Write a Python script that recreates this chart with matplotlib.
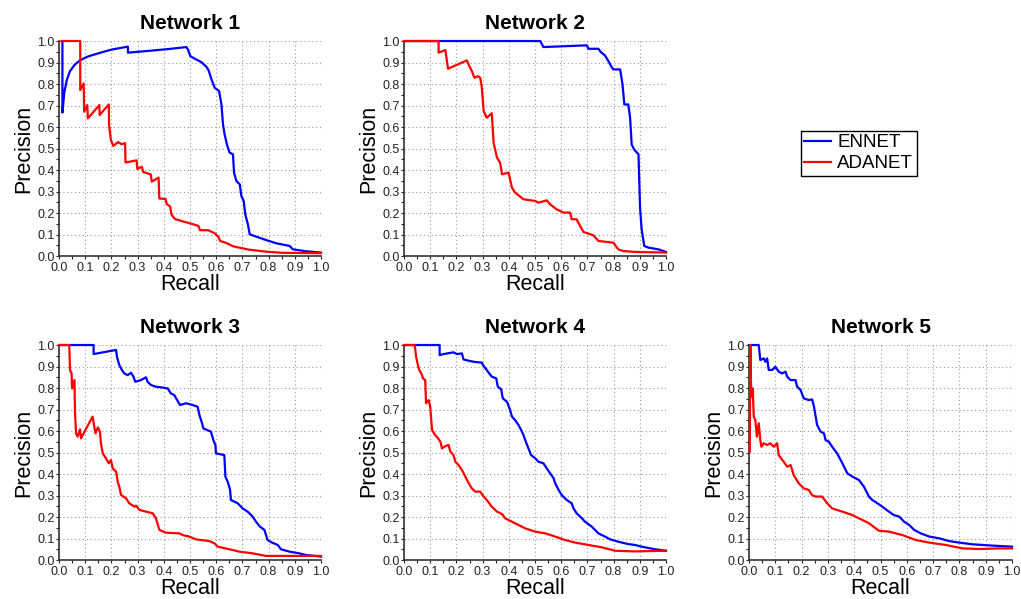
import numpy as np
import matplotlib.pyplot as plt
from matplotlib.ticker import MultipleLocator

plt.rcParams['font.family'] = ['Liberation Sans', 'DejaVu Sans']

#################################################################
# Network 1

n1_ennet_recall = [0.013, 0.013, 0.02, 0.03, 0.042, 0.06, 0.08, 0.11, 0.156, 0.20, 0.263, 0.263,
                   0.35, 0.42, 0.486, 0.492, 0.501, 0.518, 0.543, 0.562, 0.571, 0.581, 0.594,
                   0.611, 0.620, 0.626, 0.632, 0.641, 0.651, 0.664, 0.668, 0.677, 0.690, 0.696,
                   0.705, 0.711, 0.721, 0.728, 0.753, 0.791, 0.830, 0.880, 0.893, 0.944, 1.0]
n1_ennet_prec = [1.0, 0.667, 0.76, 0.82, 0.86, 0.89, 0.91, 0.928, 0.945, 0.96, 0.974, 0.946,
                 0.955, 0.963, 0.972, 0.961, 0.930, 0.918, 0.902, 0.881, 0.864, 0.825, 0.783,
                 0.767, 0.705, 0.612, 0.566, 0.519, 0.481, 0.473, 0.388, 0.349, 0.333, 0.279,
                 0.256, 0.194, 0.147, 0.101, 0.090, 0.074, 0.059, 0.047, 0.031, 0.022, 0.016]

n1_adanet_recall = [0.009, 0.081, 0.081, 0.094, 0.096, 0.108, 0.110, 0.154, 0.155, 0.190, 0.191,
                    0.198, 0.207, 0.226, 0.239, 0.252, 0.254, 0.296, 0.299, 0.316, 0.322, 0.350,
                    0.354, 0.380, 0.383, 0.407, 0.411, 0.424, 0.430, 0.443, 0.475, 0.506, 0.532,
                    0.538, 0.570, 0.595, 0.608, 0.615, 0.640, 0.665, 0.723, 0.793, 0.85, 1.0]
n1_adanet_prec = [1.0, 1.0, 0.772, 0.803, 0.671, 0.702, 0.64, 0.702, 0.656, 0.705, 0.609,
                  0.54, 0.512, 0.53, 0.52, 0.525, 0.435, 0.445, 0.405, 0.415, 0.39, 0.38,
                  0.346, 0.365, 0.268, 0.265, 0.242, 0.23, 0.191, 0.172, 0.16, 0.15, 0.14,
                  0.12, 0.12, 0.105, 0.09, 0.07, 0.06, 0.045, 0.03, 0.02, 0.015, 0.013]

#################################################################
# Network 2

n2_ennet_recall = [0.0, 0.520, 0.532, 0.698, 0.704, 0.742, 0.751, 0.767, 0.780, 0.790, 0.799,
                   0.825, 0.834, 0.841, 0.856, 0.863, 0.869, 0.878, 0.895, 0.901, 0.907, 0.917,
                   0.933, 0.971, 0.990, 1.0]
n2_ennet_prec = [1.0, 1.0, 0.972, 0.980, 0.964, 0.964, 0.949, 0.933, 0.907, 0.884, 0.868,
                 0.868, 0.798, 0.705, 0.705, 0.643, 0.519, 0.496, 0.473, 0.225, 0.124, 0.047,
                 0.039, 0.031, 0.023, 0.019]

n2_adanet_recall = [0.0, 0.132, 0.132, 0.158, 0.168, 0.240, 0.249, 0.259, 0.269, 0.282, 0.291,
                    0.297, 0.304, 0.316, 0.335, 0.342, 0.355, 0.367, 0.374, 0.399, 0.412, 0.424,
                    0.456, 0.501, 0.513, 0.545, 0.558, 0.583, 0.609, 0.634, 0.640, 0.659, 0.672,
                    0.685, 0.723, 0.742, 0.799, 0.818, 0.837, 0.882, 1.0]
n2_adanet_prec = [1.0, 1.0, 0.946, 0.958, 0.871, 0.910, 0.884, 0.860, 0.829, 0.837, 0.829,
                  0.783, 0.674, 0.643, 0.664, 0.527, 0.457, 0.434, 0.380, 0.388, 0.318, 0.295,
                  0.264, 0.256, 0.248, 0.259, 0.240, 0.217, 0.202, 0.202, 0.171, 0.171, 0.140,
                  0.112, 0.096, 0.070, 0.062, 0.031, 0.023, 0.019, 0.016]

#################################################################
# Network 3

n3_ennet_recall = [0.0, 0.132, 0.132, 0.218, 0.221, 0.230, 0.240, 0.249, 0.262, 0.275, 0.284,
                   0.291, 0.313, 0.332, 0.338, 0.351, 0.370, 0.396, 0.415, 0.427, 0.440, 0.447,
                   0.462, 0.485, 0.510, 0.529, 0.536, 0.546, 0.551, 0.580, 0.589, 0.597, 0.599,
                   0.631, 0.635, 0.644, 0.653, 0.656, 0.682, 0.701, 0.720, 0.739, 0.752, 0.767,
                   0.784, 0.796, 0.813, 0.835, 0.847, 0.879, 0.917, 0.943, 1.0]
n3_ennet_prec = [1.0, 1.0, 0.958, 0.977, 0.946, 0.907, 0.884, 0.868, 0.860, 0.871, 0.853,
                 0.829, 0.837, 0.850, 0.829, 0.814, 0.806, 0.802, 0.798, 0.775, 0.767, 0.752,
                 0.721, 0.729, 0.721, 0.713, 0.674, 0.636, 0.612, 0.597, 0.558, 0.535, 0.496,
                 0.488, 0.388, 0.364, 0.326, 0.279, 0.264, 0.240, 0.225, 0.202, 0.178, 0.155,
                 0.140, 0.093, 0.081, 0.070, 0.050, 0.039, 0.031, 0.023, 0.016]

n3_adanet_recall = [0.0, 0.039, 0.042, 0.048, 0.050, 0.059, 0.061, 0.065, 0.071, 0.080, 0.084,
                    0.128, 0.139, 0.148, 0.156, 0.160, 0.167, 0.179, 0.190, 0.198, 0.205, 0.218,
                    0.224, 0.230, 0.237, 0.256, 0.268, 0.288, 0.294, 0.307, 0.332, 0.358, 0.370,
                    0.383, 0.408, 0.459, 0.472, 0.497, 0.523, 0.574, 0.593, 0.606, 0.650, 0.688,
                    0.739, 0.790, 1.0]
n3_adanet_prec = [1.0, 1.0, 0.884, 0.868, 0.798, 0.837, 0.690, 0.589, 0.574, 0.608, 0.566,
                  0.667, 0.589, 0.617, 0.597, 0.543, 0.496, 0.473, 0.450, 0.465, 0.426, 0.411,
                  0.364, 0.341, 0.302, 0.287, 0.264, 0.248, 0.253, 0.233, 0.225, 0.217, 0.194,
                  0.140, 0.127, 0.124, 0.116, 0.109, 0.096, 0.088, 0.078, 0.062, 0.050, 0.039,
                  0.031, 0.019, 0.019]

#################################################################
# Network 4

n4_ennet_recall = [0.0, 0.136, 0.136, 0.151, 0.189, 0.202, 0.221, 0.227, 0.247, 0.266, 0.297,
                   0.304, 0.316, 0.325, 0.335, 0.352, 0.358, 0.371, 0.377, 0.393, 0.405, 0.412,
                   0.424, 0.437, 0.447, 0.456, 0.465, 0.475, 0.485, 0.501, 0.513, 0.532, 0.545,
                   0.558, 0.571, 0.577, 0.590, 0.602, 0.621, 0.640, 0.647, 0.659, 0.679, 0.691,
                   0.717, 0.742, 0.767, 0.787, 0.818, 0.856, 0.882, 0.907, 0.958, 1.0]
n4_ennet_prec = [1.0, 1.0, 0.953, 0.958, 0.966, 0.958, 0.961, 0.933, 0.927, 0.922, 0.918,
                 0.902, 0.884, 0.868, 0.853, 0.845, 0.806, 0.794, 0.752, 0.736, 0.698, 0.667,
                 0.651, 0.628, 0.605, 0.581, 0.550, 0.519, 0.488, 0.473, 0.457, 0.450, 0.426,
                 0.403, 0.380, 0.357, 0.326, 0.302, 0.279, 0.264, 0.240, 0.217, 0.194, 0.178,
                 0.155, 0.124, 0.109, 0.096, 0.085, 0.074, 0.070, 0.062, 0.050, 0.043]

n4_adanet_recall = [0.0, 0.041, 0.046, 0.053, 0.058, 0.069, 0.072, 0.081, 0.084, 0.094, 0.100,
                    0.107, 0.119, 0.130, 0.139, 0.145, 0.158, 0.170, 0.177, 0.189, 0.196, 0.208,
                    0.221, 0.234, 0.247, 0.259, 0.272, 0.291, 0.304, 0.316, 0.335, 0.355, 0.374,
                    0.386, 0.412, 0.437, 0.463, 0.501, 0.539, 0.577, 0.615, 0.653, 0.704, 0.755,
                    0.806, 0.882, 1.0]
n4_adanet_prec = [1.0, 1.0, 0.946, 0.907, 0.884, 0.860, 0.845, 0.837, 0.729, 0.744, 0.713,
                  0.605, 0.581, 0.566, 0.550, 0.519, 0.530, 0.535, 0.504, 0.488, 0.457, 0.442,
                  0.419, 0.388, 0.357, 0.333, 0.318, 0.318, 0.295, 0.279, 0.248, 0.225, 0.214,
                  0.194, 0.178, 0.163, 0.147, 0.132, 0.124, 0.109, 0.093, 0.081, 0.070, 0.059,
                  0.043, 0.040, 0.043]

#################################################################
# Network 5

n5_ennet_recall = [0.0, 0.037, 0.043, 0.056, 0.062, 0.069, 0.075, 0.088, 0.100, 0.113, 0.126,
                   0.139, 0.145, 0.158, 0.177, 0.183, 0.196, 0.208, 0.227, 0.240, 0.247, 0.259,
                   0.272, 0.285, 0.291, 0.304, 0.316, 0.335, 0.355, 0.374, 0.393, 0.418, 0.437,
                   0.456, 0.469, 0.488, 0.507, 0.532, 0.551, 0.571, 0.590, 0.609, 0.628, 0.653,
                   0.685, 0.723, 0.761, 0.799, 0.850, 0.926, 1.0]
n5_ennet_prec = [1.0, 1.0, 0.930, 0.938, 0.922, 0.938, 0.884, 0.884, 0.899, 0.876, 0.868,
                 0.876, 0.853, 0.837, 0.837, 0.806, 0.791, 0.752, 0.744, 0.747, 0.713, 0.628,
                 0.597, 0.589, 0.558, 0.550, 0.527, 0.496, 0.450, 0.403, 0.388, 0.372, 0.341,
                 0.295, 0.279, 0.264, 0.248, 0.225, 0.209, 0.202, 0.178, 0.163, 0.140, 0.124,
                 0.109, 0.101, 0.088, 0.081, 0.073, 0.067, 0.062]

n5_adanet_recall = [0.003, 0.005, 0.008, 0.011, 0.014, 0.018, 0.024, 0.030, 0.037, 0.043, 0.047,
                    0.056, 0.069, 0.081, 0.094, 0.107, 0.113, 0.132, 0.145, 0.158, 0.170, 0.189,
                    0.208, 0.227, 0.240, 0.253, 0.278, 0.297, 0.316, 0.355, 0.393, 0.418, 0.456,
                    0.494, 0.532, 0.583, 0.634, 0.685, 0.748, 0.812, 0.875, 0.952, 1.0]
n5_adanet_prec = [0.504, 1.0, 0.798, 0.760, 0.798, 0.667, 0.651, 0.574, 0.636, 0.558, 0.527,
                  0.543, 0.535, 0.543, 0.527, 0.543, 0.488, 0.457, 0.434, 0.442, 0.395, 0.357,
                  0.333, 0.326, 0.302, 0.295, 0.295, 0.264, 0.240, 0.225, 0.209, 0.194, 0.171,
                  0.136, 0.132, 0.116, 0.093, 0.081, 0.070, 0.054, 0.051, 0.054, 0.054]

#################################################################

TITLES = ['Network 1', 'Network 2', 'Network 3', 'Network 4', 'Network 5']
CURVES = [
    (n1_ennet_recall, n1_ennet_prec, n1_adanet_recall, n1_adanet_prec),
    (n2_ennet_recall, n2_ennet_prec, n2_adanet_recall, n2_adanet_prec),
    (n3_ennet_recall, n3_ennet_prec, n3_adanet_recall, n3_adanet_prec),
    (n4_ennet_recall, n4_ennet_prec, n4_adanet_recall, n4_adanet_prec),
    (n5_ennet_recall, n5_ennet_prec, n5_adanet_recall, n5_adanet_prec),
]

# axes boxes in figure fractions [left, bottom, width, height]
BOXES = [
    [0.0578, 0.5726, 0.2566, 0.3589],
    [0.3957, 0.5726, 0.2566, 0.3589],
    [0.0578, 0.0651, 0.2566, 0.3589],
    [0.3957, 0.0651, 0.2566, 0.3589],
    [0.7336, 0.0651, 0.2576, 0.3589],
]

fig = plt.figure(figsize=(10.21, 5.99), dpi=100)

ticks = np.arange(0, 1.01, 0.1)
ticklabels = ['%.1f' % t for t in ticks]

for box, title, (er, ep, ar, ap) in zip(BOXES, TITLES, CURVES):
    ax = fig.add_axes(box)
    l1, = ax.plot(er, ep, color='#0000ff', lw=1.6, clip_on=False, zorder=3)
    l2, = ax.plot(ar, ap, color='#ff0000', lw=1.6, clip_on=False, zorder=4)
    ax.set_xlim(0, 1)
    ax.set_ylim(0, 1)
    ax.set_xticks(ticks)
    ax.set_xticklabels(ticklabels)
    ax.set_yticks(ticks)
    ax.set_yticklabels(ticklabels)
    ax.xaxis.set_minor_locator(MultipleLocator(0.05))
    ax.yaxis.set_minor_locator(MultipleLocator(0.05))
    ax.tick_params(axis='both', which='both', direction='out', length=2, width=0.8,
                   labelsize=9, colors='#222222')
    ax.tick_params(axis='x', pad=2)
    ax.tick_params(axis='y', pad=1)
    ax.grid(True, which='major', linestyle=(0, (1, 2.5)), color='#999999', linewidth=0.8)
    ax.spines['top'].set_visible(False)
    ax.spines['right'].set_visible(False)
    ax.spines['left'].set_linewidth(1.2)
    ax.spines['bottom'].set_linewidth(1.2)
    ax.spines['left'].set_color('#333333')
    ax.spines['bottom'].set_color('#333333')
    ax.set_title(title, fontsize=15, fontweight='bold', pad=9)
    ax.set_xlabel('Recall', fontsize=15.5, labelpad=0)
    ax.set_ylabel('Precision', fontsize=15.5, labelpad=2)

fig.legend([l1, l2], ['ENNET', 'ADANET'], loc='center', bbox_to_anchor=(0.841, 0.744),
           fontsize=13.5, frameon=True, fancybox=False, edgecolor='black', framealpha=1,
           handlelength=1.4, handletextpad=0.35, labelspacing=0.2, borderpad=0.2,
           borderaxespad=0)

fig.savefig('out.png', dpi=100)
